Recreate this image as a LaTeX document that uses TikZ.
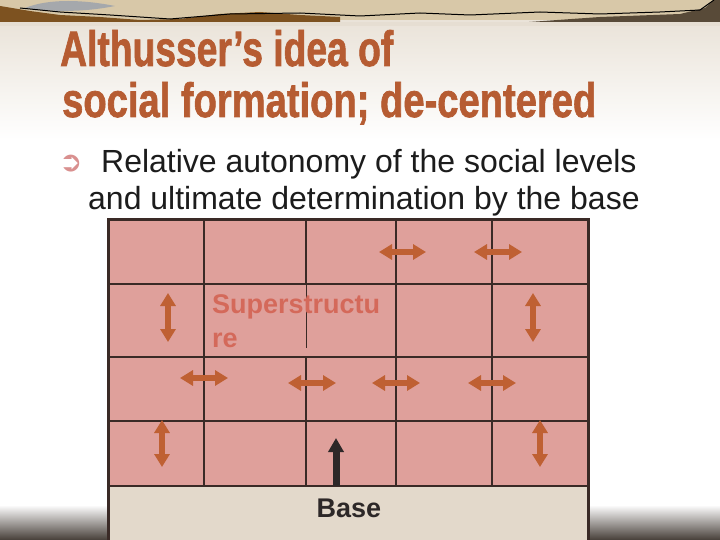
\documentclass[tikz,border=0pt]{standalone}
\usepackage{fontspec}
\usepackage{graphicx}
\setmainfont{Liberation Sans}
\newfontfamily\dejavu{DejaVu Sans}
\newfontfamily\titlefont{Liberation Sans}[BoldFeatures={FakeBold=1.6}]
\usetikzlibrary{arrows.meta}
\definecolor{bgtop}{RGB}{230,222,210}
\definecolor{bannerC}{RGB}{216,200,168}
\definecolor{cloudC}{RGB}{165,168,172}
\definecolor{brownC}{RGB}{125,82,32}
\definecolor{dbrownC}{RGB}{88,74,56}
\definecolor{bottomC}{RGB}{70,62,56}
\definecolor{titleC}{RGB}{182,92,50}
\definecolor{bulletC}{RGB}{217,144,143}
\definecolor{textC}{RGB}{28,28,28}
\definecolor{pinkC}{RGB}{223,160,155}
\definecolor{baseC}{RGB}{227,217,203}
\definecolor{lineC}{RGB}{58,42,38}
\definecolor{arrC}{RGB}{191,96,51}
\definecolor{supC}{RGB}{212,105,90}
\definecolor{darkC}{RGB}{45,40,40}
\begin{document}
\begin{tikzpicture}[x=1pt,y=-1pt,
  gridline/.style={draw=lineC,line width=2.2pt},
  thinline/.style={draw=lineC,line width=0.8pt},
  outline/.style={draw=lineC,line width=3pt},
  dblarrow/.style={draw=arrC,line width=5.5pt,{Triangle[width=15pt,length=13pt]}-{Triangle[width=15pt,length=13pt]}},
  uparrow/.style={draw=darkC,line width=7pt,-{Triangle[width=15pt,length=14pt]}},
  bodytext/.style={inner sep=0,anchor=base west,text=textC,font=\fontsize{32}{38}\selectfont},
  suptext/.style={inner sep=0,anchor=base west,text=supC,font=\bfseries\fontsize{27}{34}\selectfont},
]
\useasboundingbox (0,0) rectangle (720,540);
% background
\fill[white] (0,0) rectangle (720,540);
\fill[top color=bgtop,bottom color=white] (0,0) rectangle (720,140);
\fill[top color=white,bottom color=bottomC] (0,505) rectangle (720,540);
% banner
\fill[bannerC] (0,0) rectangle (720,20);
\fill[cloudC] (25,8) .. controls (50,-2) and (85,0) .. (115,6) .. controls (90,11) and (60,13) .. (25,8) -- cycle;
\fill[brownC] (0,6) -- (30,11) -- (60,15) -- (100,17) -- (140,20) -- (180,19) -- (220,14) -- (260,12) -- (300,15) -- (340,17) -- (340,23) -- (0,23) -- cycle;
\fill[dbrownC] (515,23) -- (600,17) -- (680,14) -- (705,8) -- (714,0) -- (720,0) -- (720,23) -- cycle;
\fill[bgtop] (0,22) rectangle (720,26);
\draw[black,line width=1pt] (20,8) -- (60,12) -- (110,15) -- (170,19) -- (230,14) -- (300,13) -- (360,16) -- (420,13) -- (470,15) -- (540,12) -- (600,14) -- (660,12) -- (700,10) -- (714,0);
% title
\node[anchor=base west,inner sep=0,text=titleC] (t1) at (60,66) {\resizebox{333pt}{36pt}{\titlefont\bfseries Althusser’s idea of}};
\node[anchor=base west,inner sep=0,text=titleC] (t2) at (62,117) {\resizebox{534pt}{35pt}{\titlefont\bfseries social formation; de-centered}};
% bullet
\node[anchor=base west,inner sep=0,text=bulletC,font=\dejavu\fontsize{28}{32}\selectfont] (bul) at (59,172) {➲};
\node[bodytext] (l1) at (101,173) {Relative autonomy of the social levels};
\node[bodytext] (l2) at (88,210) {and ultimate determination by the base};
% table fills
\fill[pinkC] (108,220) rectangle (588,486);
\fill[baseC] (108,486) rectangle (588,545);
% grid
\foreach \yy in {284,357,421,486} \draw[gridline] (108,\yy) -- (588,\yy);
\foreach \xx in {204,396,492} \draw[gridline] (\xx,220) -- (\xx,486);
\draw[gridline] (306,220) -- (306,284);
\draw[gridline] (306,357) -- (306,486);
\draw[thinline] (306,284) -- (306,348);
\draw[outline] (108,545) -- (108,220) -- (588,220) -- (588,545);
% labels
\node[suptext] (sup1) at (212,313) {Superstructu};
\node[suptext] (sup2) at (212,347) {re};
\node[anchor=base,inner sep=0,text=darkC,font=\bfseries\fontsize{27}{32}\selectfont] (base) at (349,517) {Base};
% arrows
\draw[dblarrow] (379,252) -- (426,252);
\draw[dblarrow] (474,252) -- (522,252);
\draw[dblarrow] (180,378) -- (228,378);
\draw[dblarrow] (288,383) -- (336,383);
\draw[dblarrow] (372,383) -- (420,383);
\draw[dblarrow] (468,383) -- (516,383);
\draw[dblarrow] (168,293) -- (168,342);
\draw[dblarrow] (533,293) -- (533,342);
\draw[dblarrow] (162,420) -- (162,467);
\draw[dblarrow] (540,420) -- (540,467);
\coordinate (upstart) at (336,486);
\coordinate (uptip) at (336,438);
\draw[uparrow] (upstart) -- (uptip);
\end{tikzpicture}
\end{document}
